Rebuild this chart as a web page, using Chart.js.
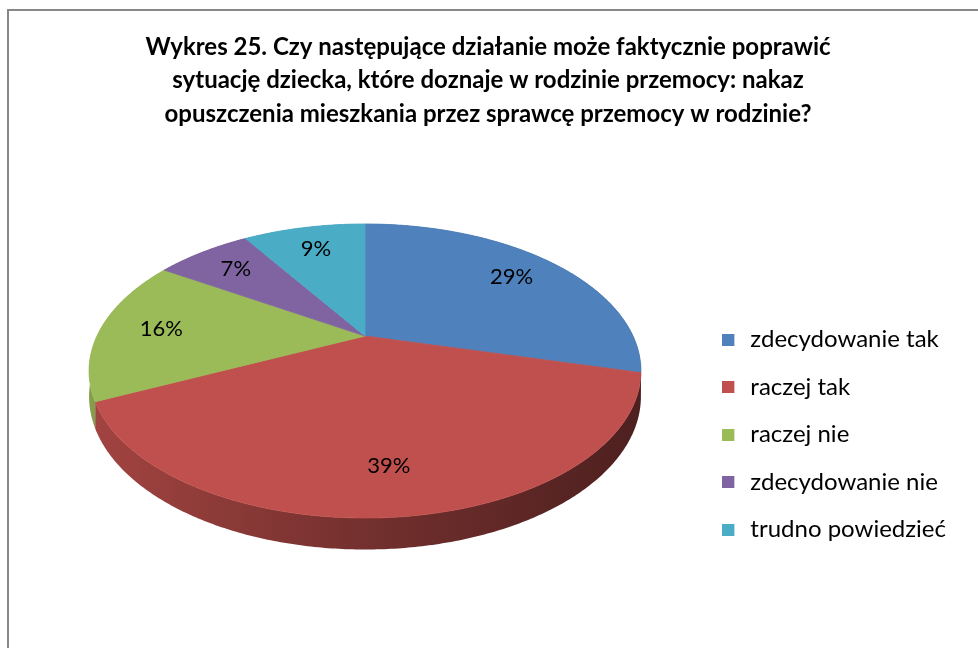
<!DOCTYPE html>
<html>
<head>
<meta charset="utf-8">
<script src="https://cdn.jsdelivr.net/npm/chart.js@4.4.0/dist/chart.umd.min.js"></script>
<style>
  html, body { margin: 0; padding: 0; background: #fff; overflow: hidden; }
  #frame { position: absolute; left: 7px; top: 9px; width: 1100px; height: 800px;
           border-left: 2px solid #888; border-top: 2px solid #888; }
  #wrap { position: absolute; left: 0; top: 0; width: 978px; height: 648px; }
</style>
</head>
<body>
<div id="frame"></div>
<div id="wrap"><canvas id="pieChart" width="978" height="648"></canvas></div>
<script>
const titleLines = [
  "Wykres 25. Czy następujące działanie może faktycznie poprawić",
  "sytuację dziecka, które doznaje w rodzinie przemocy: nakaz",
  "opuszczenia mieszkania przez sprawcę przemocy w rodzinie?"
];
const categories = ["zdecydowanie tak", "raczej tak", "raczej nie", "zdecydowanie nie", "trudno powiedzieć"];
const shares = [29, 39, 16, 7, 9];
const sliceColors = ["#4F81BD", "#C0504D", "#9BBB59", "#8064A2", "#4BACC6"];

// perspective look of the Excel 3D pie (layout only, angles come from the chart's arcs)
const look = { cx: 365, cy: 336, sx: 268, sy: 138.7, k: 0.238, depth: 24, labelR: 0.77 };

function project(theta, f, drop) {
  const u = f * Math.cos(theta), v = f * Math.sin(theta);
  const w = 1 / (1 - look.k * v);
  return [look.cx + look.sx * u * w, look.cy + (look.sy * v + (drop || 0)) * w];
}

function shade(hex, m) {
  const n = parseInt(hex.slice(1), 16);
  const r = Math.round(((n >> 16) & 255) * m), g = Math.round(((n >> 8) & 255) * m), b = Math.round((n & 255) * m);
  return `rgb(${r},${g},${b})`;
}

function arcPath(ctx, a0, a1, drop, first) {
  const steps = Math.max(8, Math.ceil(Math.abs(a1 - a0) / 0.01));
  for (let i = 0; i <= steps; i++) {
    const p = project(a0 + (a1 - a0) * i / steps, 1, drop);
    if (i === 0 && first) ctx.moveTo(p[0], p[1]); else ctx.lineTo(p[0], p[1]);
  }
}

const pie3d = {
  id: "pie3d",
  beforeDatasetsDraw(chart) {
    const ctx = chart.ctx;
    const arcs = chart.getDatasetMeta(0).data;
    const colors = chart.data.datasets[0].backgroundColor;
    const left = look.cx - look.sx * 1.03, right = look.cx + look.sx * 1.03;
    ctx.save();

    // sides
    arcs.forEach((arc, i) => {
      const grad = ctx.createLinearGradient(left, 0, right, 0);
      grad.addColorStop(0, shade(colors[i], 0.85));
      grad.addColorStop(0.5, shade(colors[i], 0.6));
      grad.addColorStop(1, shade(colors[i], 0.4));
      ctx.beginPath();
      arcPath(ctx, arc.startAngle, arc.endAngle, 0, true);
      arcPath(ctx, arc.endAngle, arc.startAngle, look.depth, false);
      ctx.closePath();
      ctx.fillStyle = grad;
      ctx.fill();
    });

    // top faces
    arcs.forEach((arc, i) => {
      ctx.beginPath();
      ctx.moveTo(look.cx, look.cy);
      arcPath(ctx, arc.startAngle, arc.endAngle, 0, false);
      ctx.closePath();
      ctx.fillStyle = colors[i];
      ctx.strokeStyle = colors[i];
      ctx.lineWidth = 0.8;
      ctx.fill();
      ctx.stroke();
    });

    // percent labels
    ctx.fillStyle = "#000";
    ctx.font = "22px Lato";
    ctx.textAlign = "center";
    ctx.textBaseline = "middle";
    const total = shares.reduce((a, b) => a + b, 0);
    arcs.forEach((arc, i) => {
      const mid = (arc.startAngle + arc.endAngle) / 2;
      const p = project(mid, look.labelR, 0);
      ctx.fillText(Math.round(shares[i] / total * 100) + "%", p[0], p[1]);
    });
    ctx.restore();
    return false;
  }
};

function swatch(color) {
  const c = document.createElement("canvas");
  c.width = 16; c.height = 12;
  const g = c.getContext("2d");
  g.fillStyle = color;
  g.fillRect(0, 0, 12, 12);
  return c;
}

function makeChart() {
  new Chart(document.getElementById("pieChart"), {
    type: "pie",
    data: {
      labels: categories,
      datasets: [{ data: shares, backgroundColor: sliceColors, borderWidth: 0 }]
    },
    options: {
      responsive: false,
      animation: false,
      layout: { padding: { left: 20, right: 22, bottom: 83 } },
      plugins: {
        title: {
          display: true,
          text: titleLines,
          color: "#000",
          font: { family: "Lato", size: 24, weight: "bold", lineHeight: 1.38 },
          padding: { top: 31, bottom: 10 }
        },
        legend: {
          position: "right",
          align: "end",
          labels: {
            color: "#000",
            font: { family: "Lato", size: 24 },
            usePointStyle: true,
            pointStyleWidth: 16,
            padding: 23.5,
            generateLabels(chart) {
              return Chart.overrides.pie.plugins.legend.labels.generateLabels(chart)
                .map((item, i) => Object.assign(item, { pointStyle: swatch(sliceColors[i]) }));
            }
          }
        },
        tooltip: { enabled: false }
      }
    },
    plugins: [pie3d]
  });
}

Promise.all([
  document.fonts.load("bold 24px Lato"),
  document.fonts.load("24px Lato")
]).then(makeChart, makeChart);
</script>
</body>
</html>
